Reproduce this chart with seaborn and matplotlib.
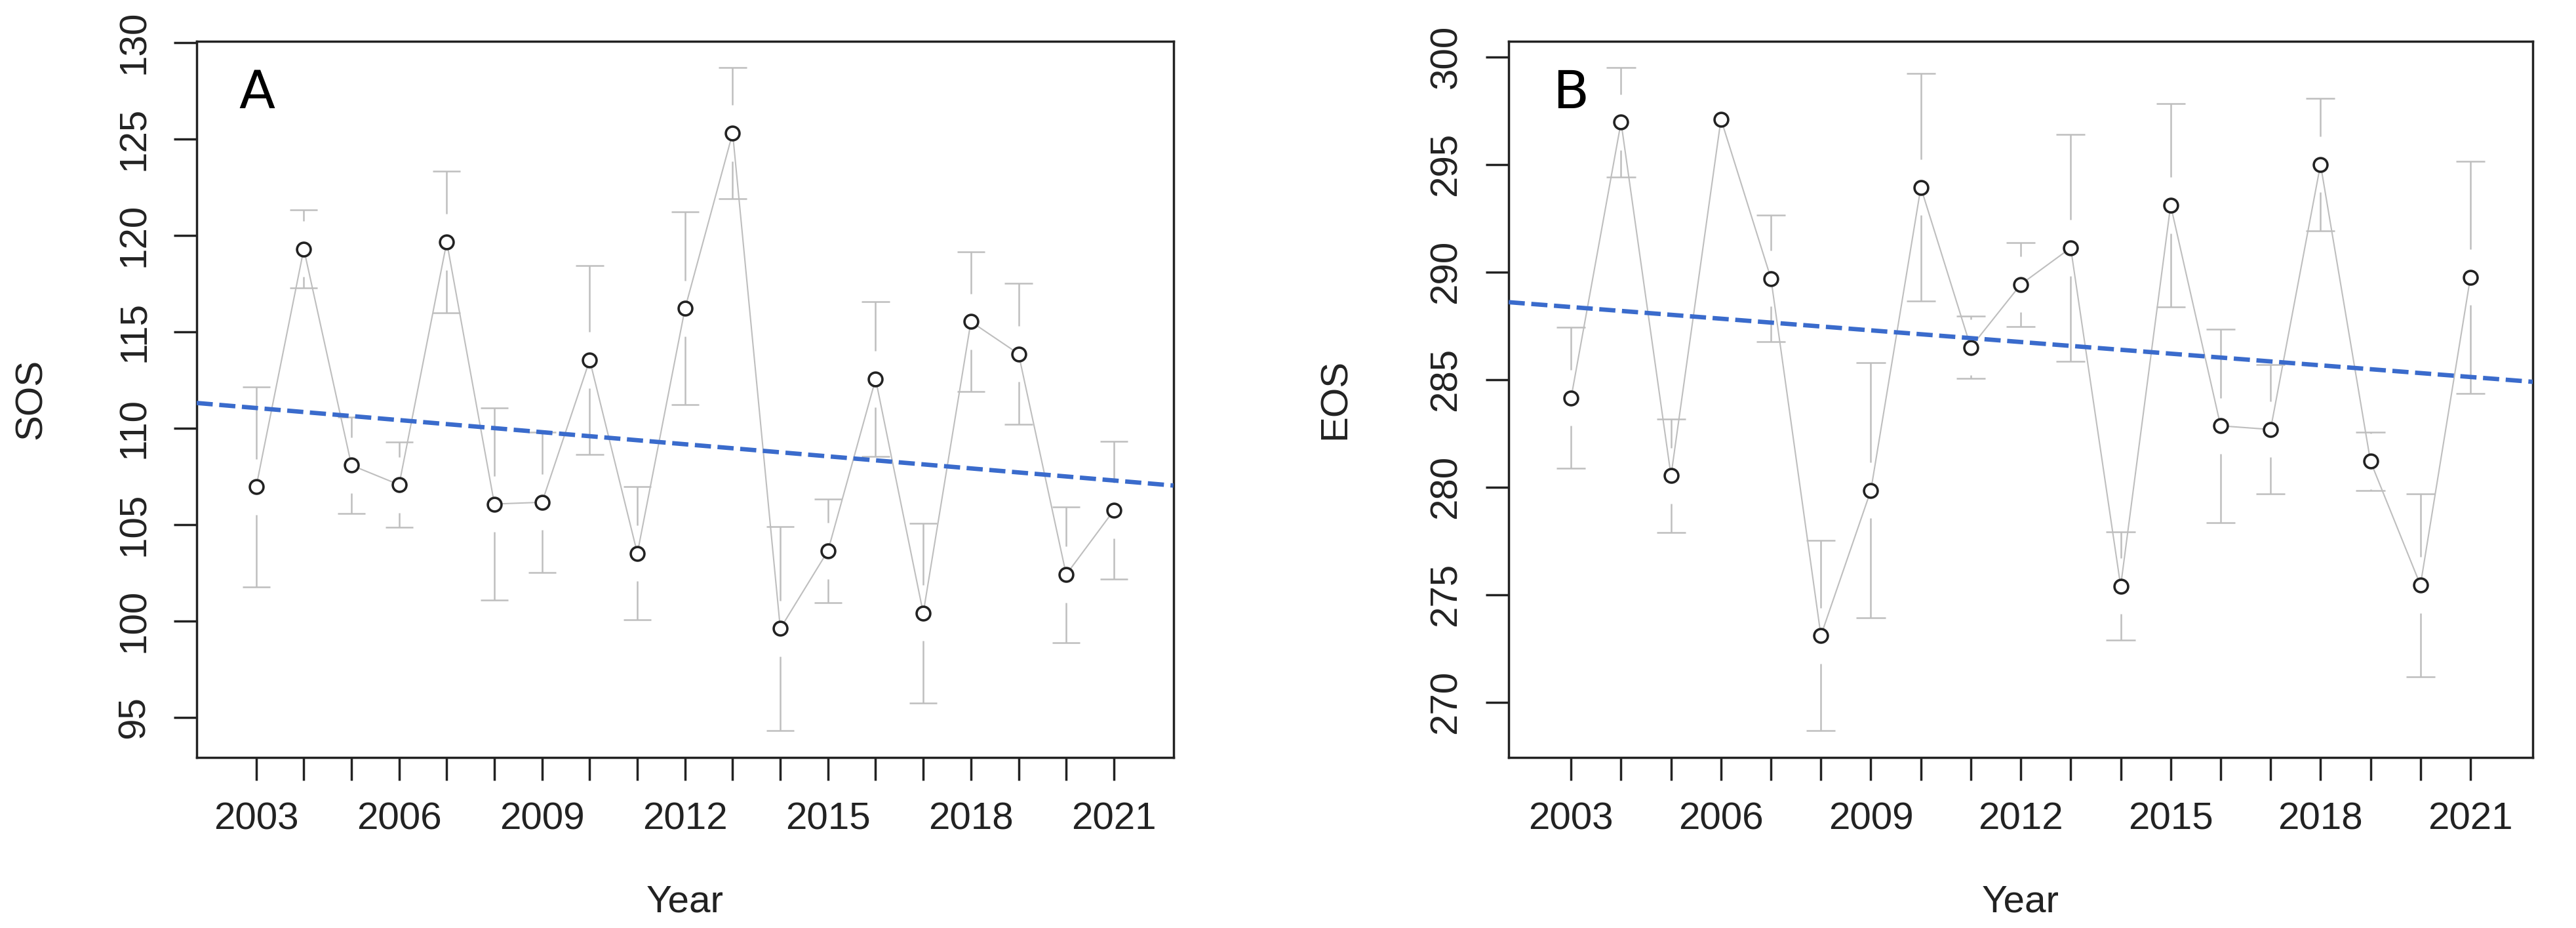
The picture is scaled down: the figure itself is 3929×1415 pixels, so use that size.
"""SOS / EOS yearly means with error bars and linear trend (two panels)."""
import matplotlib
matplotlib.use("Agg")
import matplotlib.pyplot as plt
import numpy as np
import pandas as pd
import seaborn as sns

years = list(range(2003, 2022))
year_labels = [str(y) if (y - 2003) % 3 == 0 else "" for y in years]

sos_mean = [106.95, 119.29, 108.07, 107.06, 119.65, 106.06, 106.15, 113.53, 103.5, 116.2,
            125.3, 99.6, 103.63, 112.54, 100.4, 115.52, 113.85, 102.4, 105.73]
sos_sd = [5.18, 2.03, 2.5, 2.2, 3.67, 5.0, 3.65, 4.9, 3.45, 5.0,
          3.4, 5.3, 2.68, 4.0, 4.67, 3.63, 3.66, 3.52, 3.57]

eos_mean = [284.15, 296.96, 280.53, 297.1, 289.7, 273.1, 279.85, 293.93, 286.5, 289.42,
            291.12, 275.4, 293.1, 282.85, 282.68, 295.0, 281.2, 275.45, 289.75]
eos_sd = [3.27, 2.54, 2.63, 1.0, 2.93, 4.42, 5.93, 5.29, 1.45, 1.95,
          5.27, 2.52, 4.73, 4.5, 3.0, 3.08, 1.35, 4.25, 5.39]

# trend line values at the first and last year
trend_years = [2003, 2021]
sos_trend = [111.04, 107.28]
eos_trend = [288.37, 285.12]

sns.set_theme(style="ticks")
plt.rcParams["font.family"] = ["Liberation Sans", "DejaVu Sans"]

GRAY = "#bebebe"
DARK = "#222222"
BLUE = "#3a6bcc"
FS = 42

fig = plt.figure(figsize=(39.3, 14.15), dpi=100)
axA = fig.add_axes([0.0763, 0.1840, 0.3791, 0.7718])
axB = fig.add_axes([0.5855, 0.1840, 0.3975, 0.7718])


def panel(ax, mean, sd, trend, ylab, tag, yticks):
    df = pd.DataFrame({"year": years, "val": mean, "sd": sd})
    lo = df["val"] - df["sd"]
    hi = df["val"] + df["sd"]
    pad = 0.04 * (hi.max() - lo.min())
    ax.set_ylim(lo.min() - pad, hi.max() + pad)
    ax.set_xlim(2001.75, 2022.25)
    gap = 0.039 * (hi.max() - lo.min() + 2 * pad)

    # plotCI-style bars: leave a gap around the point
    keep = df["sd"] > gap
    d = df[keep]
    ax.vlines(d["year"], d["val"] + gap, hi[keep], color=GRAY, lw=1.8, zorder=2)
    ax.vlines(d["year"], lo[keep], d["val"] - gap, color=GRAY, lw=1.8, zorder=2)
    ax.hlines(hi[keep], d["year"] - 0.29, d["year"] + 0.29, color=GRAY, lw=1.8, zorder=2)
    ax.hlines(lo[keep], d["year"] - 0.29, d["year"] + 0.29, color=GRAY, lw=1.8, zorder=2)

    sns.lineplot(data=df, x="year", y="val", ax=ax, color=GRAY, lw=1.5,
                 marker="o", markersize=15, markerfacecolor="white",
                 markeredgecolor=DARK, markeredgewidth=2.6, zorder=3)

    ax.axline((trend_years[0], trend[0]), (trend_years[1], trend[1]),
              color=BLUE, lw=4.8, ls=(0, (3.7, 1.5)), zorder=4)

    ax.set_xticks(years)
    ax.set_xticklabels(year_labels)
    ax.set_yticks(yticks)
    for lab in ax.get_yticklabels():
        lab.set_rotation(90)
        lab.set_va("center")
    ax.tick_params(axis="both", direction="out", length=25, width=2.5,
                   labelsize=FS, pad=24, colors=DARK)
    for s in ax.spines.values():
        s.set_visible(True)
        s.set_linewidth(2.5)
        s.set_color(DARK)

    ax.set_xlabel("Year", fontsize=FS, color=DARK)
    ax.set_ylabel(ylab, fontsize=FS, color=DARK)
    ax.xaxis.set_label_coords(0.5, -0.202)
    ax.xaxis.label.set_va("center")
    ax.yaxis.set_label_coords(-0.169, 0.5)
    ax.yaxis.label.set_va("center")
    ax.text(0.043, 0.962, tag, transform=ax.transAxes, ha="left", va="top",
            fontsize=58, color="black",
            family=["Liberation Sans Narrow", "DejaVu Sans"])


panel(axA, sos_mean, sos_sd, sos_trend, "SOS", "A", list(range(95, 131, 5)))
panel(axB, eos_mean, eos_sd, eos_trend, "EOS", "B", list(range(270, 301, 5)))

fig.savefig("out.png", dpi=100, facecolor="white")
